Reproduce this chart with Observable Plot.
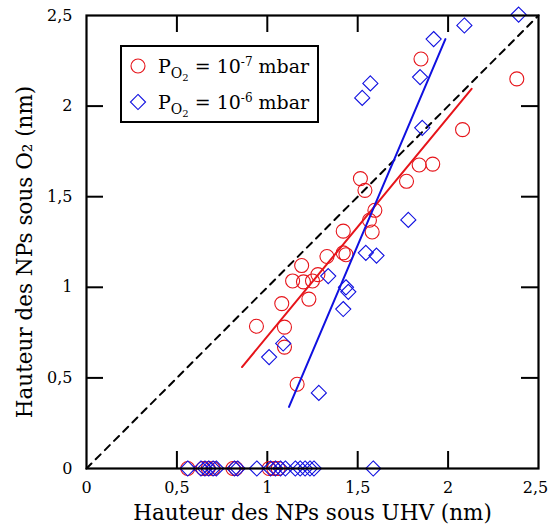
<!DOCTYPE html>
<html><head><meta charset="utf-8">
<script src="https://cdn.jsdelivr.net/npm/d3@7"></script>
<script src="https://cdn.jsdelivr.net/npm/@observablehq/plot@0.6"></script>
<style>
body{margin:0;background:#fff;}
#wrap{position:relative;width:548px;height:528px;}
#legend{position:absolute;left:0;top:0;pointer-events:none;}
</style></head><body><div id="wrap"></div>
<script>
// P_O2 = 1e-7 mbar (red circles): height under UHV (x), height under O2 (y)
const uhvA = [1.85,2.38,2.08,1.915,1.84,1.77,1.515,1.54,1.595,1.565,1.42,1.58,1.33,1.42,1.435,1.19,1.14,1.20,1.25,1.28,1.08,1.23,0.94,1.095,1.095,1.165,
              0.56,0.645,0.673,0.70,0.81,0.827,1.01,1.036,1.06];
const o2A  = [2.26,2.15,1.87,1.68,1.675,1.585,1.60,1.535,1.425,1.37,1.31,1.305,1.17,1.19,1.18,1.12,1.035,1.03,1.035,1.07,0.91,0.935,0.785,0.78,0.67,0.465,
              0,0,0,0,0,0,0,0,0];
// P_O2 = 1e-6 mbar (blue diamonds)
const uhvB = [2.39,2.09,1.92,1.845,1.57,1.525,1.857,1.78,1.545,1.604,1.337,1.435,1.448,1.42,1.285,1.088,1.01,
              0.56,0.633,0.655,0.676,0.70,0.718,0.818,0.836,0.942,1.018,1.045,1.073,1.10,1.155,1.182,1.209,1.236,1.258,1.586];
const o2B  = [2.505,2.445,2.37,2.16,2.125,2.045,1.88,1.372,1.19,1.175,1.062,1.0,0.975,0.88,0.417,0.69,0.615,
              0,0,0,0,0,0,0,0,0,0,0,0,0,0,0,0,0,0,0];
// linear fits (end points)
const fitAx = [0.86, 2.13], fitAy = [0.56, 2.095];
const fitBx = [1.12, 1.985], fitBy = [0.34, 2.37];
// identity line
const diagX = [0, 2.5], diagY = [0, 2.5];
const ticks = [0, 0.5, 1, 1.5, 2, 2.5];
const innerTicks = [0.5, 1, 1.5, 2];
const xTitle = "Hauteur des NPs sous UHV (nm)";
const yTitle = "Hauteur des NPs sous O₂ (nm)";
const legendExp = ["-7", "-6"];

const RED = "#e6141a", BLUE = "#1010e0";
const fmt = d => String(d).replace(".", ",");
const A = uhvA.map((x, i) => ({x, y: o2A[i]}));
const B = uhvB.map((x, i) => ({x, y: o2B[i]}));
const FA = fitAx.map((x, i) => ({x, y: fitAy[i]}));
const FB = fitBx.map((x, i) => ({x, y: fitBy[i]}));
const D = diagX.map((x, i) => ({x, y: diagY[i]}));

const W = 548, H = 528, mL = 86, mR = 10, mT = 15, mB = 60;
const fw = W - mL - mR, fh = H - mT - mB, tl = 17;

const chart = Plot.plot({
  width: W, height: H,
  marginLeft: mL, marginRight: mR, marginTop: mT, marginBottom: mB,
  style: {fontFamily: "DejaVu Serif", background: "#fff", color: "#000"},
  x: {domain: [0, 2.5]},
  y: {domain: [0, 2.5]},
  marks: [
    Plot.axisX(ticks.slice(0, -1), {tickFormat: fmt, tickSize: 0, tickPadding: 13, fontSize: 16, label: null}),
    Plot.axisX(ticks.slice(-1), {tickFormat: fmt, tickSize: 0, tickPadding: 13, fontSize: 16, label: null, dx: -3}),
    Plot.axisY(ticks, {tickFormat: fmt, tickSize: 0, tickPadding: 14, fontSize: 16, label: null}),
    Plot.text([xTitle], {frameAnchor: "bottom", dy: 45, fontSize: 21.5, text: d => d, lineAnchor: "middle", textAnchor: "middle"}),
    Plot.text([yTitle], {frameAnchor: "left", dx: -61, dy: 10, rotate: -90, fontSize: 21.5, text: d => d, lineAnchor: "middle", textAnchor: "middle"}),
    Plot.tickX(innerTicks, {x: d => d, insetTop: fh - tl, stroke: "#000", strokeWidth: 2}),
    Plot.tickX(innerTicks, {x: d => d, insetBottom: fh - tl, stroke: "#000", strokeWidth: 2}),
    Plot.tickY(innerTicks, {y: d => d, insetRight: fw - tl, stroke: "#000", strokeWidth: 2}),
    Plot.tickY(innerTicks, {y: d => d, insetLeft: fw - tl, stroke: "#000", strokeWidth: 2}),
    Plot.line(D, {x: "x", y: "y", stroke: "#000", strokeWidth: 2, strokeDasharray: "7,6"}),
    Plot.dot(A, {x: "x", y: "y", r: 7, stroke: RED, strokeWidth: 1.1, symbol: "circle"}),
    Plot.dot(B, {x: "x", y: "y", r: 6.8, stroke: BLUE, strokeWidth: 1.1, symbol: "diamond2"}),
    Plot.line(FA, {x: "x", y: "y", stroke: RED, strokeWidth: 2}),
    Plot.line(FB, {x: "x", y: "y", stroke: BLUE, strokeWidth: 2}),
    Plot.frame({stroke: "#000", strokeWidth: 2.2})
  ]
});
const wrap = document.getElementById("wrap");
wrap.appendChild(chart);

// legend overlay
const lg = d3.select(wrap).append("svg").attr("id", "legend").attr("width", W).attr("height", H)
  .style("font-family", "DejaVu Serif");
lg.append("rect").attr("x", 121).attr("y", 46).attr("width", 197).attr("height", 76)
  .attr("fill", "#fff").attr("stroke", "#000").attr("stroke-width", 2);
const rows = [{c: RED, sym: d3.symbolCircle, sup: legendExp[0], cy: 66},
              {c: BLUE, sym: d3.symbolDiamond2, sup: legendExp[1], cy: 102}];
rows.forEach(r => {
  const s = r.sym === d3.symbolCircle ? Math.PI * 49 : Math.PI * 6.8 * 6.8;
  lg.append("path").attr("d", d3.symbol(r.sym, s)()).attr("transform", `translate(138,${r.cy})`)
    .attr("fill", "none").attr("stroke", r.c).attr("stroke-width", 1.1);
  const t = lg.append("text").attr("x", 158).attr("y", r.cy + 7).attr("font-size", 19).attr("fill", "#000");
  t.append("tspan").text("P");
  t.append("tspan").attr("dy", 5).attr("font-size", 14).text("O");
  t.append("tspan").attr("dy", 3).attr("font-size", 10).text("2");
  t.append("tspan").attr("dy", -8).text(" = 10");
  t.append("tspan").attr("dy", -7).attr("font-size", 12).text(r.sup);
  t.append("tspan").attr("dy", 7).text(" mbar");
});
</script>
</body></html>
